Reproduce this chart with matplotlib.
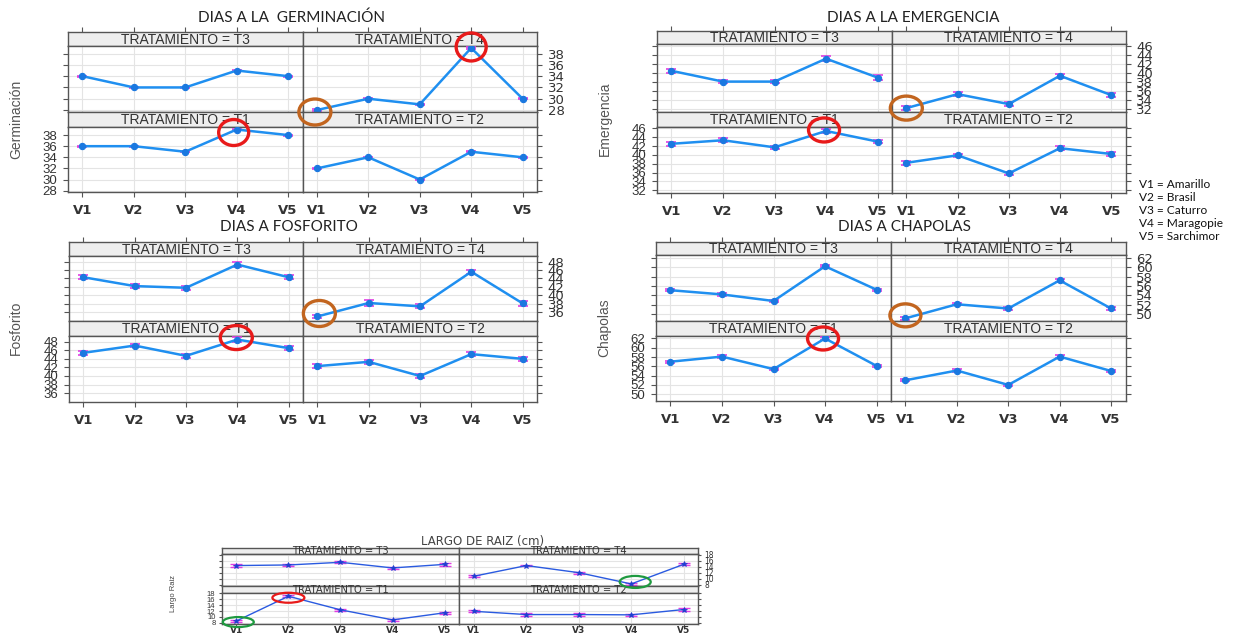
import numpy as np
import matplotlib
matplotlib.use("Agg")
import matplotlib.pyplot as plt
from matplotlib.patches import Ellipse
from matplotlib.transforms import IdentityTransform

W, H, DPI = 1233, 635, 100

# ---------------------------------------------------------------- data
variedades = ["V1", "V2", "V3", "V4", "V5"]
nombres = ["Amarillo", "Brasil", "Caturro", "Maragopie", "Sarchimor"]

germinacion = {"T3": [34, 32, 32, 35, 34], "T4": [28, 30, 29, 39, 30],
               "T1": [36, 36, 35, 39, 38], "T2": [32, 34, 30, 35, 34]}
germinacion_ee = {"T3": [0.1] * 5, "T4": [0.1] * 5,
                  "T1": [0.1] * 5, "T2": [0.1] * 5}

emergencia = {"T3": [40.4, 38.0, 38.0, 43.1, 38.9], "T4": [32.1, 35.2, 33.0, 39.3, 35.0],
              "T1": [42.5, 43.3, 41.7, 45.4, 43.0], "T2": [38.2, 39.9, 35.8, 41.5, 40.2]}
emergencia_ee = {"T3": [0.4, 0.4, 0.4, 0.5, 0.5], "T4": [0.4, 0.5, 0.4, 0.5, 0.4],
                 "T1": [0.4, 0.4, 0.4, 0.4, 0.4], "T2": [0.4, 0.4, 0.4, 0.5, 0.5]}

fosforito = {"T3": [44.3, 42.2, 41.8, 47.3, 44.3], "T4": [35.0, 38.2, 37.4, 45.6, 38.1],
             "T1": [45.4, 47.1, 44.7, 48.5, 46.5], "T2": [42.3, 43.3, 40.0, 45.1, 44.0]}
fosforito_ee = {"T3": [0.5, 0.5, 0.5, 0.6, 0.5], "T4": [0.4, 0.6, 0.5, 0.5, 0.5],
                "T1": [0.5, 0.4, 0.5, 0.5, 0.5], "T2": [0.5, 0.5, 0.4, 0.5, 0.5]}

chapolas = {"T3": [55.1, 54.2, 52.8, 60.2, 55.2], "T4": [49.1, 52.1, 51.2, 57.2, 51.2],
            "T1": [57.0, 58.1, 55.4, 62.0, 56.1], "T2": [53.0, 55.1, 52.0, 58.1, 55.0]}
chapolas_ee = {"T3": [0.25] * 5, "T4": [0.25] * 5,
               "T1": [0.25] * 5, "T2": [0.25] * 5}

raiz = {"T3": [14.4, 14.6, 15.5, 13.6, 14.8], "T4": [10.8, 14.4, 12.0, 8.2, 14.8],
        "T1": [8.6, 17.0, 12.4, 9.0, 11.4], "T2": [11.9, 10.8, 10.8, 10.7, 12.5]}
raiz_ee = {"T3": [0.4] * 5, "T4": [0.3] * 5,
           "T1": [0.4] * 5, "T2": [0.4] * 5}

# ---------------------------------------------------------------- figure
fig = plt.figure(figsize=(W / DPI, H / DPI), dpi=DPI)
fig.patch.set_facecolor("white")

SANS = "Liberation Sans"
TITLE_FONT = "Lato"
FRAME = "#555555"
XLIM = (0.72, 5.28)


def box_axes(x0, y0, x1, y1):
    """Axes placed by pixel box (y measured from the top)."""
    return fig.add_axes([x0 / W, 1 - y1 / H, (x1 - x0) / W, (y1 - y0) / H])


def lattice(box, datos, errores, ylim, yticks, st):
    left, mid, right, top, s1, p1, s2, p2 = box
    xs = np.arange(1, len(variedades) + 1)
    layout = [("T3", left, mid, top, s1, p1, "tl"),
              ("T4", mid, right, top, s1, p1, "tr"),
              ("T1", left, mid, p1, s2, p2, "bl"),
              ("T2", mid, right, p1, s2, p2, "br")]
    axes = {}
    for trat, x0, x1, ys, yp, yb, pos in layout:
        # strip
        sax = box_axes(x0, ys, x1, yp)
        sax.set_facecolor("#eeeeee")
        sax.set_xlim(XLIM)
        sax.set_ylim(0, 1)
        sax.set_yticks([])
        for sp in sax.spines.values():
            sp.set_color(FRAME)
            sp.set_linewidth(st["lw_frame"])
        if pos in ("tl", "tr") and st["top_ticks"]:
            sax.set_xticks(xs)
            sax.tick_params(axis="x", top=True, bottom=False, labeltop=False,
                            labelbottom=False, direction="out",
                            length=st["tick_len"], width=0.8, color=FRAME)
        else:
            sax.set_xticks([])
        sax.text(0.5, 0.45, f"TRATAMIENTO = {trat}", transform=sax.transAxes,
                 ha="center", va="center", fontsize=st["strip_fs"],
                 family=st["strip_family"], color="#333333")

        # panel
        ax = box_axes(x0, yp, x1, yb)
        ax.set_xlim(XLIM)
        ax.set_ylim(ylim)
        ax.set_xticks(xs)
        ax.set_xticklabels(variedades)
        ax.set_yticks(yticks)
        ax.set_yticklabels([str(t) for t in yticks])
        ax.grid(True, color="#e4e4e4", lw=0.8)
        ax.set_axisbelow(True)
        for sp in ax.spines.values():
            sp.set_color(FRAME)
            sp.set_linewidth(st["lw_frame"])
        ax.tick_params(direction="out", length=st["tick_len"], width=0.8,
                       color=FRAME, labelcolor="#333333")
        ax.tick_params(axis="y", labelsize=st["ytick_fs"], pad=st["ypad"])
        ax.tick_params(axis="x", labelsize=st["xtick_fs"], pad=st["xpad"],
                       length=st["xtick_len"])
        for lab in ax.get_yticklabels():
            lab.set_family(SANS)
        for lab in ax.get_xticklabels():
            lab.set_family(st["xtick_family"])
            lab.set_fontweight("bold")
        ax.tick_params(axis="x", top=False, bottom=pos in ("bl", "br"),
                       labelbottom=pos in ("bl", "br"))
        ax.tick_params(axis="y",
                       left=pos in ("tl", "bl"), labelleft=pos == "bl",
                       right=pos in ("tr", "br"), labelright=pos == "tr")

        y = np.array(datos[trat])
        e = np.array(errores[trat])
        if st.get("halo"):
            ax.errorbar(xs, y, yerr=e, fmt="none", ecolor="#f2b3f2",
                        elinewidth=4.5, capsize=0, zorder=2)
        ax.errorbar(xs, y, yerr=e, fmt="none", ecolor="#e23ee2",
                    elinewidth=st["elw"], capsize=st["capsize"],
                    capthick=st["capthick"], zorder=3)
        ax.plot(xs, y, color=st["line"], lw=st["lw"], marker=st["marker"],
                ms=st["ms"], mfc=st["mcolor"], mec=st["mcolor"],
                mew=st["mew"], zorder=4)
        axes[trat] = ax
    return axes


def rodear(ax, datos, trat, i, dx, dy, w, h, color, lw):
    """Outline ring around one plotted mean (offset and size in pixels)."""
    px, py = ax.transData.transform((i + 1, datos[trat][i]))
    fig.add_artist(Ellipse((px + dx, py - dy), w, h, transform=IdentityTransform(),
                           fill=False, edgecolor=color, lw=lw, zorder=10))


grande = dict(lw_frame=1.0, top_ticks=True, tick_len=3.6, xtick_len=3.6,
              strip_fs=10, strip_family=SANS, ytick_fs=9.5, ypad=4,
              xtick_fs=9.5, xpad=5, xtick_family="DejaVu Sans", elw=1.0,
              capsize=3.6, capthick=1.2, line="#1f8ff0", lw=1.8, marker="o",
              ms=4.5, mcolor="#1a78e0", mew=0.8)
pequeno = dict(lw_frame=1.0, top_ticks=False, tick_len=2.5, xtick_len=1.2,
               strip_fs=7.2, strip_family="DejaVu Sans", ytick_fs=5.5, ypad=2,
               xtick_fs=6.5, xpad=0.3, xtick_family="DejaVu Sans", elw=0.9,
               capsize=4, capthick=1.0, line="#2a5ae0", lw=1.0, marker="*",
               ms=4, mcolor="#1e3fd0", mew=0.5, halo=True)

ROJO, NARANJA, VERDE = "#e81a1a", "#c2651f", "#1f9a40"

# DIAS A LA GERMINACION
g = lattice((68, 302.5, 537, 32.3, 45.7, 111.7, 127.3, 192.3),
            germinacion, germinacion_ee, (27.7, 39.4),
            [28, 30, 32, 34, 36, 38], grande)
fig.text(292 / W, 1 - 18 / H, "DIAS A LA  GERMINACIÓN", ha="center", va="center",
         fontsize=11, family=TITLE_FONT, color="#222222")
fig.text(16 / W, 1 - 119 / H, "Germinación", rotation=90, ha="center", va="center",
         fontsize=10, family=SANS, color="#555555")

# DIAS A LA EMERGENCIA
em = lattice((657, 892, 1125.5, 31, 44.3, 111.7, 127, 193.3),
             emergencia, emergencia_ee, (31.3, 46.3),
             [32, 34, 36, 38, 40, 42, 44, 46], grande)
fig.text(913 / W, 1 - 18 / H, "DIAS A LA EMERGENCIA", ha="center", va="center",
         fontsize=11, family=TITLE_FONT, color="#222222")
fig.text(605 / W, 1 - 119 / H, "Emergencia", rotation=90, ha="center", va="center",
         fontsize=10, family=SANS, color="#555555")

# DIAS A FOSFORITO
fo = lattice((69, 303, 537, 242, 255.7, 320.7, 335.7, 401.7),
             fosforito, fosforito_ee, (34.0, 49.4),
             [36, 38, 40, 42, 44, 46, 48], grande)
fig.text(289 / W, 1 - 227 / H, "DIAS A FOSFORITO", ha="center", va="center",
         fontsize=11, family=TITLE_FONT, color="#222222")
fig.text(16 / W, 1 - 328 / H, "Fosforito", rotation=90, ha="center", va="center",
         fontsize=10, family=SANS, color="#555555")

# DIAS A CHAPOLAS
ch = lattice((656, 891, 1125.5, 241.7, 255, 320.7, 335.7, 400.7),
             chapolas, chapolas_ee, (48.6, 62.6),
             [50, 52, 54, 56, 58, 60, 62], grande)
fig.text(904 / W, 1 - 227 / H, "DIAS A CHAPOLAS", ha="center", va="center",
         fontsize=11, family=TITLE_FONT, color="#222222")
fig.text(604 / W, 1 - 328 / H, "Chapolas", rotation=90, ha="center", va="center",
         fontsize=10, family=SANS, color="#555555")

# LARGO DE RAIZ
ra = lattice((221.7, 459.3, 698.3, 547.7, 554.3, 586, 592.7, 624.3),
             raiz, raiz_ee, (7.5, 18.2), [8, 10, 12, 14, 16, 18], pequeno)
fig.text(483 / W, 1 - 541 / H, "LARGO DE RAIZ (cm)", ha="center", va="center",
         fontsize=8.5, family="DejaVu Sans", color="#444444")
fig.text(173 / W, 1 - 594 / H, "Largo Raiz", rotation=90, ha="center", va="center",
         fontsize=5.5, family=SANS, color="#444444")

# variety key
for k, (v, n) in enumerate(zip(variedades, nombres)):
    fig.text(1139 / W, 1 - (185 + 12.9 * k) / H, f"{v} = {n}", ha="left",
             va="center", fontsize=8.6, family=TITLE_FONT, color="#111111")

# highlighted means
rodear(g["T4"], germinacion, "T4", 3, 0, -1, 30, 28, ROJO, 2.4)
rodear(g["T4"], germinacion, "T4", 0, -2, 2, 32, 26, NARANJA, 2.4)
rodear(g["T1"], germinacion, "T1", 3, -3, 3, 30, 26, ROJO, 2.4)
rodear(em["T4"], emergencia, "T4", 0, 0, 0, 32, 24, NARANJA, 2.4)
rodear(em["T1"], emergencia, "T1", 3, -2, -1, 31, 24, ROJO, 2.4)
rodear(fo["T4"], fosforito, "T4", 0, 2, -3, 32, 26, NARANJA, 2.4)
rodear(fo["T1"], fosforito, "T1", 3, -1, -2, 32, 24, ROJO, 2.4)
rodear(ch["T4"], chapolas, "T4", 0, 0, -3, 31, 23, NARANJA, 2.4)
rodear(ch["T1"], chapolas, "T1", 3, -2, 0, 31, 23, ROJO, 2.4)
rodear(ra["T4"], raiz, "T4", 3, 4, -2, 31, 12, VERDE, 1.6)
rodear(ra["T1"], raiz, "T1", 1, 0, 1.5, 32, 10, ROJO, 1.6)
rodear(ra["T1"], raiz, "T1", 0, 2, 1, 31, 10, VERDE, 1.6)

fig.savefig("out.png", dpi=DPI)
